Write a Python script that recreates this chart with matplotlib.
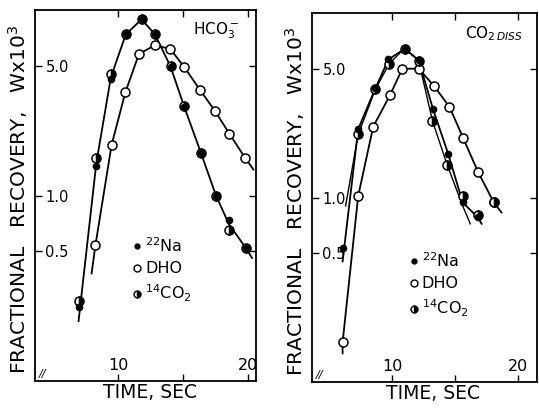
import matplotlib
matplotlib.use("Agg")
import matplotlib.pyplot as plt
from matplotlib.lines import Line2D

# ---------------- data (time in s, recovery W x 10^3) ----
# left panel: HCO3-
hco3_na_t = [6.95, 8.32, 9.44, 10.59, 11.8, 12.82, 14.03, 15.05, 16.36, 17.52, 18.52, 19.83]
hco3_na_y = [0.25, 1.44, 4.25, 7.4, 8.9, 7.4, 4.95, 3.0, 1.7, 1.0, 0.74, 0.52]
hco3_co2_t = [6.95, 8.32, 9.44, 10.59, 11.8, 12.82, 14.03, 15.05, 16.36, 17.52, 18.52, 19.83]
hco3_co2_y = [0.27, 1.6, 4.5, 7.4, 8.9, 7.4, 5.0, 3.05, 1.7, 1.0, 0.65, 0.52]
hco3_dho_t = [8.25, 9.49, 10.55, 11.6, 12.8, 14.0, 15.1, 16.28, 17.44, 18.56, 19.75]
hco3_dho_y = [0.54, 1.87, 3.6, 5.8, 6.44, 6.18, 4.9, 3.72, 2.86, 2.15, 1.60]
# drawn curves
hco3_fast_curve_t = [6.95, 8.32, 9.44, 10.59, 11.8, 12.82, 14.03, 15.05, 16.36, 17.52, 18.52, 19.83, 20.3]
hco3_fast_curve_y = [0.21, 1.5, 4.35, 7.4, 8.9, 7.4, 4.95, 3.05, 1.7, 1.0, 0.7, 0.52, 0.46]
hco3_dho_curve_t = [7.95, 8.25, 9.49, 10.55, 11.6, 12.8, 14.0, 15.1, 16.28, 17.44, 18.56, 19.75, 20.4]
hco3_dho_curve_y = [0.38, 0.54, 1.87, 3.6, 5.8, 6.44, 6.18, 4.9, 3.72, 2.86, 2.15, 1.60, 1.38]

# right panel: CO2 dissolved
diss_na_t = [6.06, 7.3, 8.66, 9.7, 11.0, 12.1, 13.25, 14.45, 15.6, 16.8]
diss_na_y = [0.53, 2.35, 3.9, 5.6, 6.4, 5.55, 3.0, 1.72, 0.94, 0.78]
diss_co2_t = [7.3, 8.66, 9.75, 11.0, 12.1, 13.2, 14.37, 15.6, 16.83, 18.07]
diss_co2_y = [2.2, 3.85, 5.3, 6.4, 5.5, 2.6, 1.5, 1.02, 0.8, 0.94]
diss_dho_t = [6.06, 7.3, 8.49, 9.82, 10.8, 12.1, 13.35, 14.55, 15.65, 16.83, 18.07]
diss_dho_y = [0.164, 1.02, 2.42, 3.58, 4.98, 5.0, 4.0, 3.1, 2.09, 1.37, 0.94]
# drawn curves
diss_na_curve_t = [6.06, 7.3, 8.66, 9.7, 11.0, 12.1, 13.25, 14.45, 15.6, 16.8, 17.1]
diss_na_curve_y = [0.45, 2.35, 3.9, 5.6, 6.4, 5.55, 3.0, 1.72, 0.94, 0.78, 0.72]
diss_co2_curve_t = [6.3, 7.3, 8.66, 9.75, 11.0, 12.1, 13.2, 14.37, 15.6, 16.2]
diss_co2_curve_y = [0.9, 2.2, 3.85, 5.3, 6.45, 5.5, 2.6, 1.5, 0.9, 0.72]
diss_dho_curve_t = [6.06, 6.06, 7.3, 8.49, 9.82, 10.8, 12.1, 13.35, 14.55, 15.65, 16.83, 18.07, 18.68]
diss_dho_curve_y = [0.143, 0.164, 1.02, 2.42, 3.58, 4.98, 5.0, 4.0, 3.1, 2.09, 1.37, 0.94, 0.83]

ytick_vals = [0.5, 1.0, 5.0]
ytick_labels = ["0.5", "1.0", "5.0"]
xtick_vals = [10, 15, 20]
xtick_labels = ["10", "", "20"]

plt.rcParams['font.family'] = ['DejaVu Sans']

fig = plt.figure(figsize=(5.39, 4.08), dpi=100)
axL = fig.add_axes([35/539, 27/408, 221/539, 371/408])
axR = fig.add_axes([312/539, 26/408, 225/539, 369/408])

na_style = dict(ls='none', marker='o', ms=4.5, mfc='black', mec='black')
dho_style = dict(ls='none', marker='o', ms=6.5, mfc='white', mec='black', mew=1.1)
co2_style = dict(ls='none', marker='o', ms=6.5, mfc='black', mec='black', mew=1.1,
                 fillstyle='right', markerfacecoloralt='white')


def setup(ax, xlim, label_x, xlabel_x, title, title_x):
    ax.set_yscale('log')
    ax.set_ylim(0.1, 10)
    ax.set_xlim(*xlim)
    ax.minorticks_off()
    ax.set_yticks(ytick_vals, ytick_labels)
    ax.set_xticks(xtick_vals, xtick_labels)
    ax.tick_params(direction='in', length=5, width=1, top=True, right=True)
    ax.tick_params(axis='y', pad=-7.5, labelsize=10.5)
    ax.tick_params(axis='x', pad=-6, labelsize=11.5)
    for lbl in ax.get_yticklabels():
        lbl.set_ha('left')
    for lbl in ax.get_xticklabels():
        lbl.set_va('bottom')
    for s in ax.spines.values():
        s.set_linewidth(1.3)
    ax.set_ylabel('FRACTIONAL   RECOVERY,   Wx10$^3$', fontsize=14.5)
    ax.yaxis.set_label_coords(label_x, 0.49)
    ax.set_xlabel('TIME, SEC', fontsize=13.5)
    ax.xaxis.set_label_coords(xlabel_x, -0.006)
    ax.text(title_x, 0.945, title, transform=ax.transAxes, ha='center',
            va='center', fontsize=11)
    ax.text(0.015, 0.005, '//', transform=ax.transAxes, fontsize=8,
            ha='left', va='bottom', style='italic')


# left panel
axL.plot(hco3_fast_curve_t, hco3_fast_curve_y, color='black', lw=1.3)
axL.plot(hco3_dho_curve_t, hco3_dho_curve_y, color='black', lw=1.3)
axL.plot(hco3_dho_t, hco3_dho_y, **dho_style)
axL.plot(hco3_co2_t, hco3_co2_y, **co2_style)
axL.plot(hco3_na_t, hco3_na_y, **na_style)
setup(axL, (3.6, 20.6), -0.022, 0.52, r'HCO$_3^-$', 0.82)

# right panel
axR.plot(diss_na_curve_t, diss_na_curve_y, color='black', lw=1.3)
axR.plot(diss_co2_curve_t, diss_co2_curve_y, color='black', lw=1.0)
axR.plot(diss_dho_curve_t, diss_dho_curve_y, color='black', lw=1.3)
axR.plot(diss_dho_t, diss_dho_y, **dho_style)
axR.plot(diss_co2_t, diss_co2_y, **co2_style)
axR.plot(diss_na_t, diss_na_y, **na_style)
setup(axR, (3.63, 21.5), -0.024, 0.54, r'CO$_{2\,\mathit{DISS}}$', 0.81)

handles = [Line2D([], [], ls='none', marker='o', ms=3.5, mfc='black', mec='black'),
           Line2D([], [], ls='none', marker='o', ms=5, mfc='white', mec='black'),
           Line2D([], [], ls='none', marker='o', ms=5, mfc='black', mec='black',
                  fillstyle='right', markerfacecoloralt='white')]
names = [r'$^{22}$Na', 'DHO', r'$^{14}$CO$_2$']
for ax, anchor in [(axL, (0.44, 0.39)), (axR, (0.43, 0.355))]:
    ax.legend(handles, names, loc='upper left', bbox_to_anchor=anchor,
              frameon=False, fontsize=11.5, handlelength=0.6, handletextpad=0.2,
              labelspacing=0.4, borderpad=0, borderaxespad=0)

fig.savefig('out.png', dpi=100)
